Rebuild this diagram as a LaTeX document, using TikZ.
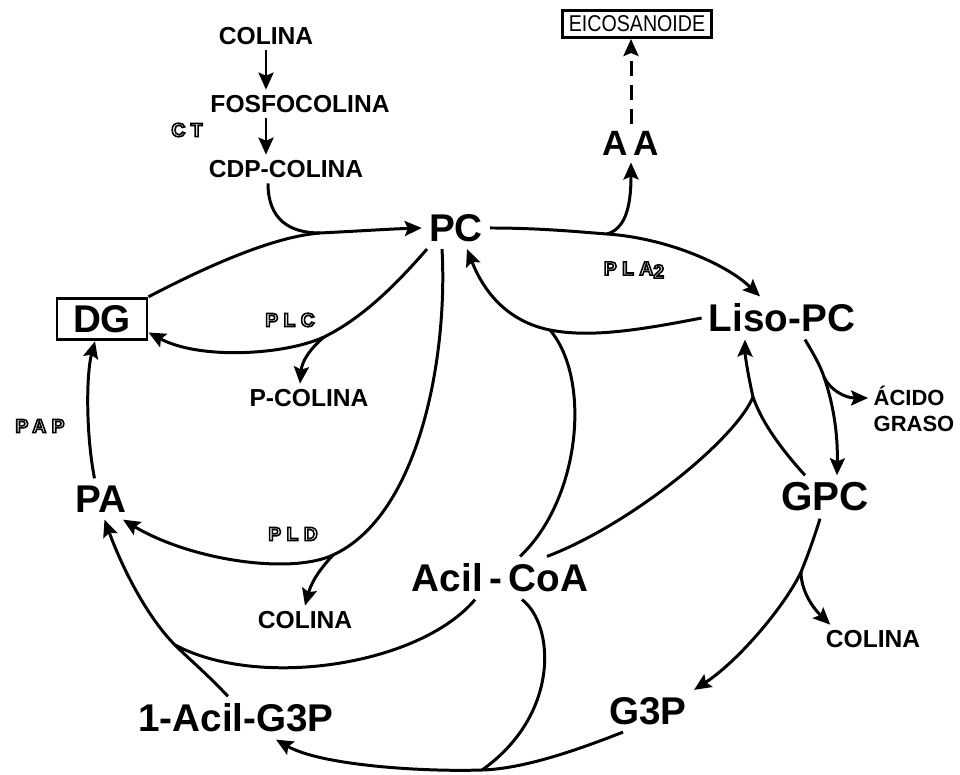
\documentclass[tikz,border=0pt]{standalone}
\usepackage{fontspec}
\setmainfont{Liberation Sans}
\newfontfamily\enzfont[LetterSpace=28]{Liberation Sans}
\newfontfamily\condfont[FakeStretch=0.86]{Liberation Sans}
\usetikzlibrary{arrows.meta}
\newcommand\outlinetext[1]{\special{pdf:literal direct 1 Tr}#1\special{pdf:literal direct 0 Tr}}

\begin{document}
\begin{tikzpicture}[
      x=0.2mm, y=0.2mm,
      metabolite/.style={font=\fontsize{22}{26}\selectfont\bfseries, inner sep=4pt},
      minor/.style={font=\fontsize{14}{16}\selectfont\bfseries, inner sep=3pt},
      enzyme/.style={font=\enzfont\bfseries\fontsize{11}{13}\selectfont, inner sep=2pt, line width=0.9pt},
      boxed/.style={draw, line width=1.7pt},
      reaction/.style={-{Stealth[length=3.4mm,width=3mm,inset=0.6mm]}, line width=1.7pt},
      joining/.style={line width=1.7pt}
    ]
    \useasboundingbox (0,0) rectangle (960,775);

    \foreach \n/\x/\y/\t in {pc/456/547/PC, liso/782/457/Liso-PC, pa/101/276/PA,
        acilcoa/500/197/{Acil\,-\,CoA}, acilg3p/236/57/1-Acil-G3P, g3p/648/64/G3P} {
      \node[metabolite] (\n) at (\x,\y) {\t};
    }
    \node[metabolite, font=\fontsize{23}{27}\selectfont\bfseries] (gpc) at (825,278) {GPC};
    \node[metabolite, font=\fontsize{20}{24}\selectfont\bfseries] (aa) at (631,632) {A\,A};
    \node[metabolite, boxed, minimum width=1.8cm, minimum height=0.82cm] (dg) at (102,456) {DG};
    \node[boxed, font=\condfont\fontsize{13}{15}\selectfont, minimum width=2.98cm,
        minimum height=0.54cm, inner sep=1pt] (eico) at (637,751) {EICOSANOIDE};

    \foreach \n/\x/\y/\t in {colina/266/739/COLINA, fosfo/300/671/FOSFOCOLINA,
        cdp/286/606/CDP-COLINA, pcolina/309/377/P-COLINA, colinab/305/155/COLINA,
        colinac/873/136/COLINA} {
      \node[minor] (\n) at (\x,\y) {\t};
    }
    \node[minor, font=\fontsize{12.5}{15}\selectfont\bfseries, align=left] (acido) at (914,366) {ÁCIDO\\GRASO};

    \foreach \n/\x/\y/\t in {ct/187/645/CT, plc/290/455/PLC, pap/40/349/PAP, pld/293/241/PLD} {
      \node[enzyme] (\n) at (\x,\y) {\outlinetext{\t}};
    }
    \node[enzyme] (pla) at (634,505) {\outlinetext{PLA\raisebox{-0.3ex}{2}}};

    \coordinate (jcdp) at (320,542);
    \coordinate (jaa) at (607,541);
    \coordinate (jplc) at (324,438);
    \coordinate (jpld) at (333,220);
    \coordinate (jlpc) at (550,445);
    \coordinate (jgl) at (753,378);
    \coordinate (jfa) at (824,398);
    \coordinate (jcol) at (801,203);
    \coordinate (jbot) at (482,5);
    \coordinate (jpa) at (175,130);

    \draw[reaction] (colina.south) -- (colina.south |- fosfo.north);
    \draw[reaction] (colina.south |- fosfo.south) -- (colina.south |- cdp.north);
    \draw[joining] ([xshift=-3.6mm]cdp.south) .. controls (268,555) and (290,542) .. (jcdp);
    \draw[reaction] (dg.north east) .. controls (200,505) and (270,538) .. (jcdp)
      .. controls (360,544) and (390,546) .. (pc.west);

    \draw[reaction] (pc.east) .. controls (540,547) and (580,543) .. (jaa)
      .. controls (665,537) and (725,512) .. ([xshift=-4.4mm]liso.north);
    \draw[reaction] (jaa) .. controls (624,546) and (631,565) .. (aa.south);
    \draw[reaction, dash pattern=on 3mm off 1.8mm] (aa.north) -- (aa.north |- eico.south);

    \draw[reaction] (liso.west) .. controls (640,445) and (590,437) .. (jlpc)
      .. controls (510,453) and (485,480) .. ([xshift=2.2mm]pc.south);
    \draw[reaction] ([xshift=-5.8mm]pc.south) .. controls (400,495) and (365,458) .. (jplc)
      .. controls (285,420) and (200,415) .. ([yshift=-2.7mm]dg.east);
    \draw[reaction] (jplc) .. controls (312,428) and (302,415) .. ([xshift=-1.8mm]pcolina.north);
    \draw[reaction] ([xshift=-2.8mm]pc.south) .. controls (448,420) and (420,260) .. (jpld)
      .. controls (290,200) and (190,215) .. ([xshift=4.4mm]pa.south);
    \draw[reaction] (jpld) .. controls (322,208) and (312,195) .. (colinab.north);
    \draw[reaction] ([xshift=-1.3mm]pa.north) .. controls (86,340) and (86,400) .. ([xshift=-1.4mm]dg.south);

    \draw[reaction] ([xshift=4.6mm]liso.south) .. controls (814,420) and (820,410) .. (jfa)
      .. controls (832,375) and (838,345) .. ([xshift=2.4mm]gpc.north);
    \draw[reaction] (jfa) .. controls (830,385) and (845,377) .. ([yshift=2.2mm]acido.west);
    \draw[reaction] ([xshift=-4mm]gpc.north) .. controls (782,325) and (762,352) .. (jgl)
      .. controls (748,400) and (745,420) .. ([xshift=-7.4mm]liso.south);
    \draw[reaction] ([xshift=-1mm]gpc.south) .. controls (815,240) and (808,220) .. (jcol)
      .. controls (786,171) and (740,115) .. (g3p.north east);
    \draw[reaction] (jcol) .. controls (801,185) and (812,168) .. ([xshift=2mm]colinac.north west);

    \draw[reaction] ([xshift=-5mm]g3p.south) .. controls (570,22) and (520,6) .. (jbot)
      .. controls (420,3) and (320,10) .. ([xshift=8mm]acilg3p.south);
    \draw[reaction] ([xshift=-1.6mm]acilg3p.north) .. controls (205,103) and (190,115) .. (jpa)
      .. controls (150,155) and (125,200) .. ([xshift=0.7mm]pa.south);

    \draw[joining] ([xshift=4mm]acilcoa.north) .. controls (580,275) and (592,395) .. (jlpc);
    \draw[joining] ([xshift=9.4mm]acilcoa.north) .. controls (630,250) and (735,335) .. (jgl);
    \draw[joining] ([xshift=-5mm]acilcoa.south) .. controls (420,110) and (260,85) .. (jpa);
    \draw[joining] ([xshift=4.4mm]acilcoa.south) .. controls (555,150) and (560,60) .. (jbot);
  \end{tikzpicture}
\end{document}
